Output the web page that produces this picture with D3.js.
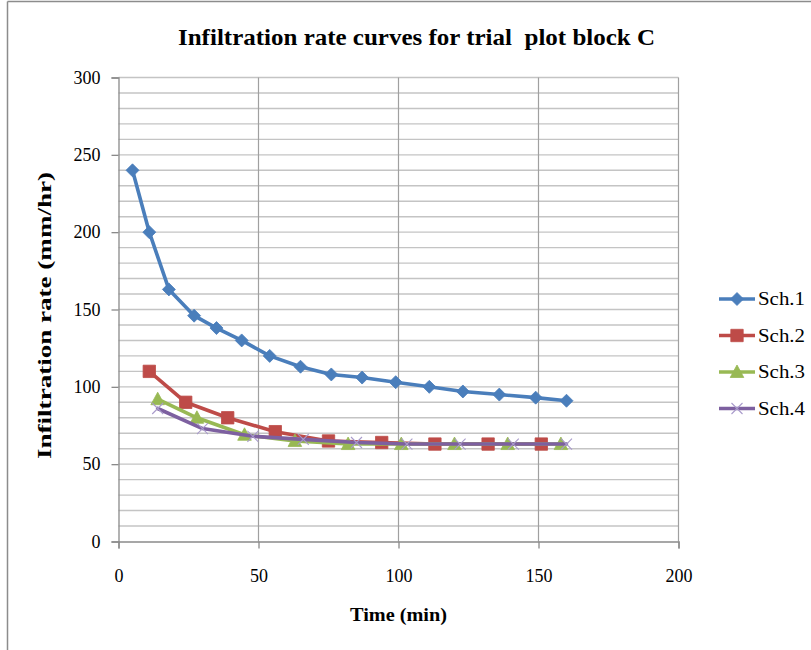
<!DOCTYPE html>
<html>
<head>
<meta charset="utf-8">
<script src="https://cdn.jsdelivr.net/npm/d3@7"></script>
<style>
  html, body { margin: 0; padding: 0; background: #fff; }
  svg { display: block; }
</style>
</head>
<body>
<svg id="chart" width="811" height="650"></svg>
<script>
// Infiltration measurements (time in minutes, rate in mm/hr)
const sch1Time = [5, 11, 18, 27, 35, 44, 54, 65, 76, 87, 99, 111, 123, 136, 149, 160];
const sch1Rate = [240, 200, 163, 146, 138, 130, 120, 113, 108, 106, 103, 100, 97, 95, 93, 91];

const sch2Time = [11, 24, 39, 56, 75, 94, 113, 132, 151];
const sch2Rate = [110, 90, 80, 71, 65, 64, 63, 63, 63];

const sch3Time = [14, 28, 45, 63, 82, 101, 120, 139, 158];
const sch3Rate = [92, 80, 69, 65, 63, 63, 63, 63, 63];

const sch4Time = [14, 30, 48, 66, 85, 103, 122, 141, 160];
const sch4Rate = [86, 73, 68, 66, 64, 63, 63, 63, 63];

const seriesNames = ["Sch.1", "Sch.2", "Sch.3", "Sch.4"];
const xTicks = [0, 50, 100, 150, 200];
const yTicks = [0, 50, 100, 150, 200, 250, 300];

const titleText = "Infiltration rate curves for trial  plot block C";
const xTitle = "Time (min)";
const yTitle = "Infiltration rate (mm/hr)";

const series = [
  { name: seriesNames[0], t: sch1Time, v: sch1Rate, color: "#4A7EBB", marker: "diamond" },
  { name: seriesNames[1], t: sch2Time, v: sch2Rate, color: "#BE4B48", marker: "square" },
  { name: seriesNames[2], t: sch3Time, v: sch3Rate, color: "#98B954", marker: "triangle" },
  { name: seriesNames[3], t: sch4Time, v: sch4Rate, color: "#7D60A0", marker: "cross" }
];

const svg = d3.select("#chart");
const serif = "'Liberation Serif', 'Times New Roman', serif";

// chart frame
svg.append("rect").attr("x", 0).attr("y", 0).attr("width", 811).attr("height", 650).attr("fill", "#fff");
svg.append("line").attr("x1", 7.5).attr("x2", 7.5).attr("y1", 1.5).attr("y2", 650)
  .attr("stroke", "#8c8c8c").attr("stroke-width", 1.5);
svg.append("line").attr("x1", 7.5).attr("x2", 811).attr("y1", 1.5).attr("y2", 1.5)
  .attr("stroke", "#8c8c8c").attr("stroke-width", 1.5);

const plot = { left: 118.5, right: 678.5, top: 77.5, bottom: 541.5 };

const x = d3.scaleLinear().domain([0, 200]).range([plot.left, plot.right]);
const y = d3.scaleLinear().domain([0, 300]).range([plot.bottom, plot.top]);

// horizontal minor gridlines every 10
const g = svg.append("g");
g.selectAll("line.hgrid").data(d3.range(10, 301, 10)).enter().append("line")
  .attr("class", "hgrid")
  .attr("x1", plot.left).attr("x2", plot.right)
  .attr("y1", d => y(d)).attr("y2", d => y(d))
  .attr("stroke", "#c4c4c4").attr("stroke-width", 1.4);

// vertical gridlines at major x ticks
g.selectAll("line.vgrid").data(xTicks.slice(1)).enter().append("line")
  .attr("class", "vgrid")
  .attr("x1", d => x(d)).attr("x2", d => x(d))
  .attr("y1", plot.top).attr("y2", plot.bottom)
  .attr("stroke", "#a0a0a0").attr("stroke-width", 1.2);

// axes
const yAxis = d3.axisLeft(y).tickValues(yTicks).tickSize(7).tickPadding(11).tickFormat(d3.format("d"));
const xAxis = d3.axisBottom(x).tickValues(xTicks).tickSize(7).tickPadding(21).tickFormat(d3.format("d"));

const gy = svg.append("g").attr("transform", `translate(${plot.left},0)`).call(yAxis);
const gx = svg.append("g").attr("transform", `translate(0,${plot.bottom})`).call(xAxis);
[gx, gy].forEach(ax => {
  ax.select(".domain").attr("stroke", "#8a8a8a").attr("stroke-width", 1.3);
  ax.selectAll(".tick line").attr("stroke", "#8a8a8a").attr("stroke-width", 1.3);
  ax.selectAll(".tick text")
    .attr("font-family", serif).attr("font-size", 18).attr("fill", "#000");
});
gx.selectAll(".tick text").attr("transform", function () {
  const t = d3.select(this);
  return null;
});

// marker shapes
function markerPath(type) {
  if (type === "diamond") return "M0,-6.5L6.5,0L0,6.5L-6.5,0Z";
  if (type === "square") return "M-6.2,-6.2H6.2V6.2H-6.2Z";
  if (type === "triangle") return "M0,-7L6.8,5.5H-6.8Z";
  return "M-5.5,-5.5L5.5,5.5M-5.5,5.5L5.5,-5.5";
}

function drawMarker(sel, s) {
  const p = sel.append("path").attr("d", markerPath(s.marker));
  if (s.marker === "cross") {
    p.attr("fill", "none").attr("stroke", "#A99BCB").attr("stroke-width", 1.1);
  } else {
    p.attr("fill", s.color).attr("stroke", s.color).attr("stroke-width", 0.8);
  }
}

const line = d3.line().x(d => x(d[0])).y(d => y(d[1]));

series.forEach(s => {
  const pts = s.t.map((t, i) => [t, s.v[i]]);
  const gs = svg.append("g");
  gs.append("path").datum(pts).attr("d", line)
    .attr("fill", "none").attr("stroke", s.color).attr("stroke-width", 3.6)
    .attr("stroke-linejoin", "round").attr("stroke-linecap", "round");
  pts.forEach(p => {
    const m = gs.append("g").attr("transform", `translate(${x(p[0])},${y(p[1])})`);
    drawMarker(m, s);
  });
});

// legend
const legend = svg.append("g");
series.forEach((s, i) => {
  const ly = 299 + i * 36.5;
  const lg = legend.append("g").attr("transform", `translate(0,${ly})`);
  lg.append("line").attr("x1", 719).attr("x2", 755).attr("y1", 0).attr("y2", 0)
    .attr("stroke", s.color).attr("stroke-width", 3.6);
  const m = lg.append("g").attr("transform", "translate(737,0)");
  drawMarker(m, s);
  lg.append("text").attr("x", 758).attr("y", 6)
    .attr("font-family", serif).attr("font-size", 18).attr("fill", "#000")
    .attr("textLength", 47).attr("lengthAdjust", "spacingAndGlyphs")
    .text(s.name);
});

// title
svg.append("text")
  .attr("x", 178).attr("y", 45)
  .attr("font-family", serif).attr("font-weight", "bold").attr("font-size", 24)
  .attr("textLength", 477).attr("lengthAdjust", "spacingAndGlyphs")
  .style("white-space", "pre")
  .text(titleText);

// axis titles
svg.append("text")
  .attr("x", 350).attr("y", 621)
  .attr("font-family", serif).attr("font-weight", "bold").attr("font-size", 19)
  .attr("textLength", 97).attr("lengthAdjust", "spacingAndGlyphs")
  .text(xTitle);

svg.append("text")
  .attr("transform", "translate(51,459) rotate(-90)")
  .attr("font-family", serif).attr("font-weight", "bold").attr("font-size", 19)
  .attr("textLength", 287).attr("lengthAdjust", "spacingAndGlyphs")
  .text(yTitle);
</script>
</body>
</html>
